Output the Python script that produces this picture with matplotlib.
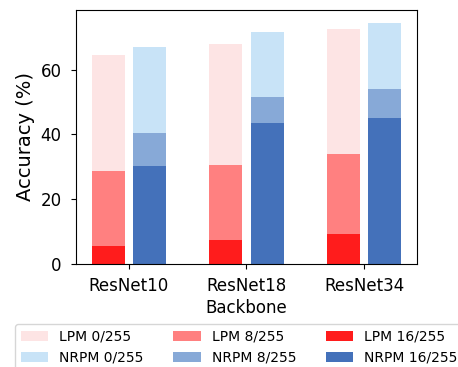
import matplotlib
matplotlib.use("Agg")
import matplotlib.pyplot as plt
import numpy as np

backbones = ["ResNet10", "ResNet18", "ResNet34"]
lpm_0 = [64.5, 68.0, 72.6]
lpm_8 = [28.7, 30.5, 33.9]
lpm_16 = [5.5, 7.2, 9.2]
nrpm_0 = [67.0, 71.8, 74.5]
nrpm_8 = [40.4, 51.7, 54.2]
nrpm_16 = [30.2, 43.5, 45.0]

lpm_colors = ["#FDE4E4", "#FF8080", "#FF1C1C"]
nrpm_colors = ["#C8E3F7", "#87A9D7", "#4471BA"]

fig = plt.figure(figsize=(4.58, 3.67), dpi=100)
ax = fig.add_axes([0.1666, 0.2815, 0.7432, 0.6913])

x = np.arange(len(backbones))
w = 0.28
off = 0.175

ax.bar(x - off, lpm_0, w, color=lpm_colors[0], label="LPM 0/255")
ax.bar(x + off, nrpm_0, w, color=nrpm_colors[0], label="NRPM 0/255")
ax.bar(x - off, lpm_8, w, color=lpm_colors[1], label="LPM 8/255")
ax.bar(x + off, nrpm_8, w, color=nrpm_colors[1], label="NRPM 8/255")
ax.bar(x - off, lpm_16, w, color=lpm_colors[2], label="LPM 16/255")
ax.bar(x + off, nrpm_16, w, color=nrpm_colors[2], label="NRPM 16/255")

ax.set_xticks(x)
ax.set_xticklabels(backbones, fontsize=12)
ax.tick_params(axis="y", labelsize=12, pad=7)
ax.tick_params(axis="x", pad=6)
ax.set_yticks([0, 20, 40, 60])
ax.set_ylim(0, 78.5)
ax.set_xlabel("Backbone", fontsize=12, labelpad=3)
ax.set_ylabel("Accuracy (%)", fontsize=14, labelpad=4)

ax.legend(loc="upper left", bbox_to_anchor=(-0.18, -0.238), ncol=3,
          fontsize=10, columnspacing=2.1, borderaxespad=0)

fig.savefig("out.png", dpi=100)
